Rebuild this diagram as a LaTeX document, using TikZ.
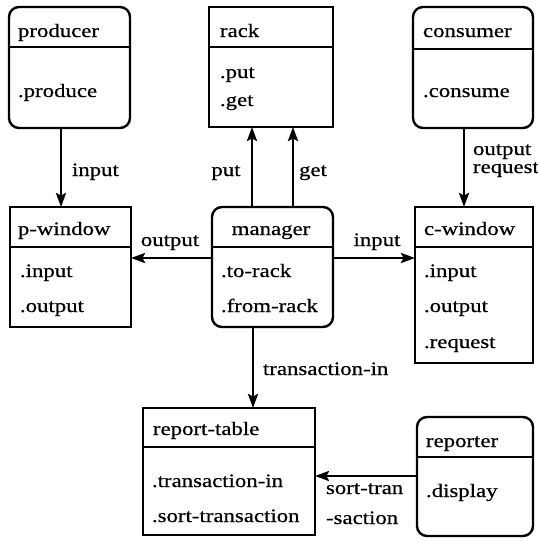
\documentclass[tikz,border=0pt]{standalone}
\usepackage{fontspec}
\setmainfont{Liberation Serif}[FakeStretch=1.2,FakeBold=0.6]
\usetikzlibrary{arrows.meta}

\begin{document}
\begin{tikzpicture}[x=1pt,y=-1pt,
  every node/.style={font=\fontsize{19}{22}\selectfont, inner sep=0pt, outer sep=0pt},
  classbox/.style={draw, line width=2.4pt, rectangle},
  roundbox/.style={classbox, rounded corners=10pt},
  divider/.style={line width=2pt},
  txt/.style={anchor=base west},
  flow/.style={line width=2.7pt, -{Stealth[length=14pt,width=10pt,inset=2.5pt]}}
]
\useasboundingbox (0,0) rectangle (538,541);

% ---- boxes ----
\node[roundbox, minimum width=121pt, minimum height=121pt] (producer) at (69.5,67.5) {};
\node[classbox, minimum width=124pt, minimum height=120pt] (rack)     at (271,67) {};
\node[roundbox, minimum width=120pt, minimum height=121pt] (consumer) at (473,67.5) {};
\node[classbox, minimum width=121pt, minimum height=120pt] (pwin)     at (70.5,267) {};
\node[roundbox, minimum width=121pt, minimum height=120pt] (manager)  at (272.5,267) {};
\node[classbox, minimum width=118pt, minimum height=156pt] (cwin)     at (474,285) {};
\node[classbox, minimum width=172pt, minimum height=127pt] (rtable)   at (229,471.5) {};
\node[roundbox, minimum width=116pt, minimum height=119pt] (reporter) at (475,476.5) {};

% ---- header dividers ----
\draw[divider] (producer.west |- 0,47)  -- (producer.east |- 0,47);
\draw[divider] (rack.west |- 0,47)      -- (rack.east |- 0,47);
\draw[divider] (consumer.west |- 0,49)  -- (consumer.east |- 0,49);
\draw[divider] (pwin.west |- 0,247)     -- (pwin.east |- 0,247);
\draw[divider] (manager.west |- 0,247)  -- (manager.east |- 0,247);
\draw[divider] (cwin.west |- 0,247)     -- (cwin.east |- 0,247);
\draw[divider] (rtable.west |- 0,447)   -- (rtable.east |- 0,447);
\draw[divider] (reporter.west |- 0,457) -- (reporter.east |- 0,457);

% ---- box texts ----
\node[txt] (producer-t) at (18,37) {producer};
\node[txt] (producer-1) at (18,97) {.produce};

\node[txt] (rack-t) at (220,37) {rack};
\node[txt] (rack-1) at (220,78) {.put};
\node[txt] (rack-2) at (220,106) {.get};

\node[txt] (consumer-t) at (423,37) {consumer};
\node[txt] (consumer-1) at (423,97) {.consume};

\node[txt] (pwin-t) at (18,235) {p-window};
\node[txt] (pwin-1) at (20,277) {.input};
\node[txt] (pwin-2) at (20,312) {.output};

\node[anchor=base] (manager-t) at (271,235) {manager};
\node[txt] (manager-1) at (221,277) {.to-rack};
\node[txt] (manager-2) at (221,312) {.from-rack};

\node[txt] (cwin-t) at (424,235) {c-window};
\node[txt] (cwin-1) at (424,277) {.input};
\node[txt] (cwin-2) at (424,312) {.output};
\node[txt] (cwin-3) at (424,348) {.request};

\node[txt] (rtable-t) at (153,435) {report-table};
\node[txt] (rtable-1) at (152,487) {.transaction-in};
\node[txt] (rtable-2) at (152,522) {.sort-transaction};

\node[txt] (reporter-t) at (426,447) {reporter};
\node[txt] (reporter-1) at (426,497) {.display};

% ---- connectors ----
\draw[flow] (producer.south -| 61,0) -- (pwin.north -| 61,0);
\draw[flow] (manager.north -| 252,0) -- (rack.south -| 252,0);
\draw[flow] (manager.north -| 293,0) -- (rack.south -| 293,0);
\draw[flow] (consumer.south -| 464,0) -- (cwin.north -| 464,0);
\draw[flow] (manager.west |- 0,258) -- (pwin.east |- 0,258);
\draw[flow] (manager.east |- 0,258) -- (cwin.west |- 0,258);
\draw[flow] (manager.south -| 253,0) -- (rtable.north -| 253,0);
\draw[flow] (reporter.west |- 0,476) -- (rtable.east |- 0,476);

% ---- connector labels ----
\node[txt] (lbl-in-p) at (72,176) {input};
\node[anchor=base] (lbl-put) at (226,176) {put};
\node[anchor=base] (lbl-get) at (313,176) {get};
\node[txt] (lbl-out-c) at (473,155) {output};
\node[txt] (lbl-req-c) at (473,173) {request};
\node[anchor=base] (lbl-out-m) at (170,246) {output};
\node[anchor=base] (lbl-in-m) at (377,246) {input};
\node[txt] (lbl-trans) at (263,375) {transaction-in};
\node[txt] (lbl-sort1) at (326,494) {sort-tran};
\node[txt] (lbl-sort2) at (326,524) {-saction};
\end{tikzpicture}
\end{document}
